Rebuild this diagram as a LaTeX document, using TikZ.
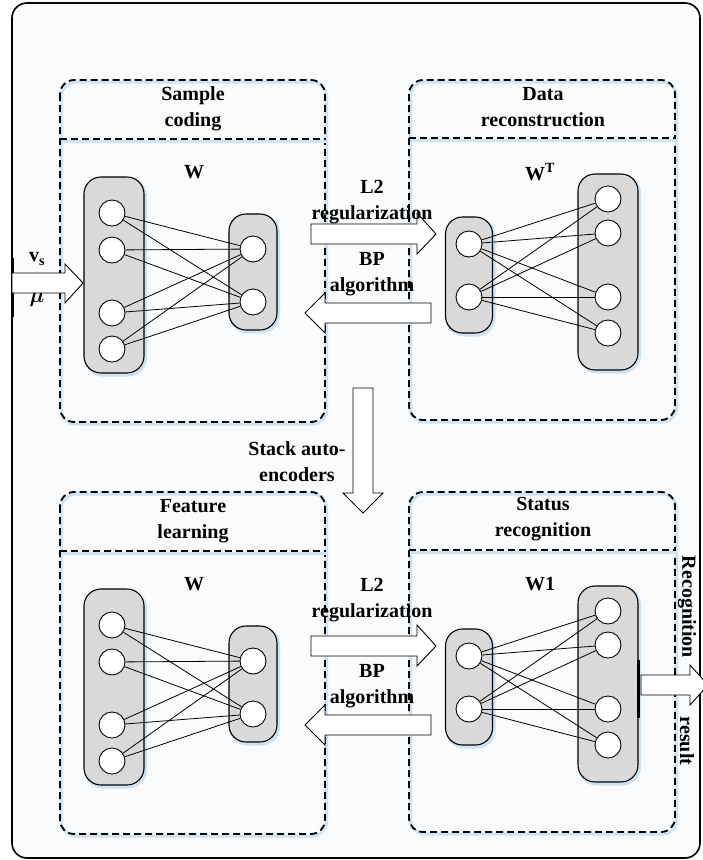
\documentclass[tikz,border=0pt]{standalone}
\usepackage{amsmath}
\usepackage{fontspec}
\setmainfont{Liberation Serif}
\usepackage{tikz}

\definecolor{layergray}{RGB}{217,217,217}
\definecolor{glowblue}{RGB}{205,226,242}
\definecolor{paper}{RGB}{249,251,252}

\tikzset{
  outerframe/.style={line width=1.6pt, rounded corners=15pt, fill=paper},
  panel/.style={line width=1.8pt, dash pattern=on 7pt off 4pt,
    preaction={draw=glowblue, line width=3pt, transform canvas={shift={(1.5pt,-2pt)}}}},
  layerbox/.style={draw, line width=1.1pt, fill=layergray, rounded corners=17pt,
    preaction={draw=glowblue, line width=3pt, transform canvas={shift={(1.5pt,-2pt)}}}},
  neuron/.style={circle, draw, line width=0.9pt, fill=white, minimum size=26pt, inner sep=0pt},
  wire/.style={line width=0.8pt},
  blockarrow/.style={draw, line width=0.9pt, fill=white},
  txt/.style={font=\bfseries\fontsize{20}{26}\selectfont, align=center, inner sep=0pt}
}

\begin{document}
\begin{tikzpicture}[x=1pt,y=-1pt]
  \useasboundingbox (0,0) rectangle (702,860);
  \draw[outerframe] (12,3) rectangle (700,858);

  % the two rows of auto-encoder panels
  \foreach \row/\dy/\lname/\rname/\wname/\ly in {
      a/0/{Sample\\coding}/{Data\\reconstruction}/{W\textsuperscript{T}}/202,
      b/412/{Feature\\learning}/{Status\\recognition}/{W1}/600} {
    \draw[panel, rounded corners=14pt] (60,80+\dy) rectangle (325,422+\dy);
    \draw[panel] (60,139+\dy) -- (325,139+\dy);
    \draw[panel, rounded corners=14pt] (409,80+\dy) rectangle (675,420+\dy);
    \draw[panel] (409,138+\dy) -- (675,138+\dy);
    \node[txt] (\row-lt) at (193,109+\dy) {\lname};
    \node[txt] (\row-rt) at (543,107+\dy) {\rname};
    \node[txt] (\row-lw) at (194,172+\dy) {W};
    \node[txt] (\row-rw) at (540,172+\dy) {\wname};

    % encoder side
    \node[layerbox, minimum width=60pt, minimum height=196pt] (\row-inbox) at (114,275+\dy) {};
    \node[layerbox, minimum width=48pt, minimum height=116pt] (\row-hidbox) at (253,272+\dy) {};
    \foreach \i/\y in {1/213,2/250,3/313,4/349}
      \node[neuron] (\row-p\i) at (112,\y+\dy) {};
    \foreach \j/\y in {1/249,2/302}
      \node[neuron] (\row-q\j) at (253,\y+\dy) {};
    \foreach \i in {1,...,4}
      \foreach \j in {1,2}
        \draw[wire] (\row-p\i) -- (\row-q\j);

    % decoder side
    \node[layerbox, minimum width=47pt, minimum height=116pt] (\row-codebox) at (469,275+\dy) {};
    \node[layerbox, minimum width=60pt, minimum height=196pt] (\row-outbox) at (608,272+\dy) {};
    \foreach \j/\y in {1/244,2/297}
      \node[neuron] (\row-r\j) at (469,\y+\dy) {};
    \foreach \i/\y in {1/199,2/233,3/297,4/333}
      \node[neuron] (\row-s\i) at (608,\y+\dy) {};
    \foreach \j in {1,2}
      \foreach \i in {1,...,4}
        \draw[wire] (\row-r\j) -- (\row-s\i);

    % forward and backward arrows
    \draw[blockarrow] (311,224+\dy) -- (417,224+\dy) -- (417,213+\dy) -- (436,234+\dy)
      -- (417,254+\dy) -- (417,244+\dy) -- (311,244+\dy) -- cycle;
    \draw[blockarrow] (431,303+\dy) -- (325,303+\dy) -- (325,293+\dy) -- (305,313+\dy)
      -- (325,333+\dy) -- (325,323+\dy) -- (431,323+\dy) -- cycle;
    \node[txt] (\row-l2) at (372,\ly) {L2\\regularization};
    \node[txt] (\row-bp) at (372,274+\dy) {BP\\algorithm};
  }

  % input
  \draw[line width=3pt] (12,258) -- (12,317);
  \draw[blockarrow] (12,273) -- (65,273) -- (65,264) -- (83,283) -- (65,303) -- (65,293)
    -- (12,293) -- cycle;
  \node[txt] (vs) at (37,259) {v\textsubscript{s}};
  \node[txt] (mu) at (37,300) {$\boldsymbol{\mu}$};

  % stacking
  \draw[blockarrow] (353,388) -- (373,388) -- (373,493) -- (383,493) -- (363,513)
    -- (343,493) -- (353,493) -- cycle;
  \node[txt] (stack) at (297,462) {Stack auto-\\encoders};

  % output
  \draw[line width=3pt] (638,660) -- (638,718);
  \draw[blockarrow] (641,675) -- (690,675) -- (690,665) -- (708,685) -- (690,705)
    -- (690,695) -- (641,695) -- cycle;
  \node[txt, rotate=-90] (recog) at (687,607) {Recognition};
  \node[txt, rotate=-90] (result) at (687,741) {result};
\end{tikzpicture}
\end{document}
